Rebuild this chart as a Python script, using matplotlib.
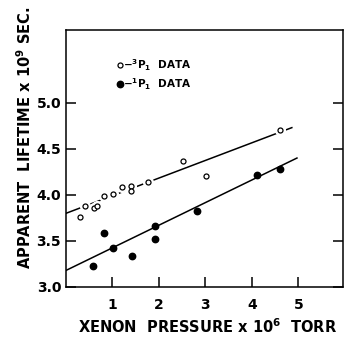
import numpy as np
import matplotlib.pyplot as plt

# 3P1 data (open circles)
p3_x = [0.31, 0.40, 0.60, 0.67, 0.81, 1.01, 1.21, 1.39, 1.39, 1.76, 2.51, 3.01, 4.61]
p3_y = [3.76, 3.88, 3.86, 3.88, 3.99, 4.01, 4.09, 4.10, 4.04, 4.14, 4.37, 4.21, 4.70]
# 1P1 data (filled circles)
p1_x = [0.58, 0.81, 1.02, 1.41, 1.91, 1.91, 2.81, 4.11, 4.60]
p1_y = [3.23, 3.59, 3.42, 3.34, 3.66, 3.52, 3.82, 4.22, 4.28]
# fitted lines (end points)
fit3_x = [0.0, 4.86]
fit3_y = [3.80, 4.73]
fit1_x = [0.0, 4.97]
fit1_y = [3.18, 4.40]

xticks = [1, 2, 3, 4, 5]
yticks = [3.0, 3.5, 4.0, 4.5, 5.0]

fig = plt.figure(figsize=(3.44, 3.39), dpi=100)
ax = fig.add_axes([66 / 344, 52 / 339, 276.5 / 344, 257 / 339])

ax.plot(fit3_x, fit3_y, color='black', lw=1.1, zorder=2)
ax.plot(fit1_x, fit1_y, color='black', lw=1.1, zorder=2)
# white halo so the line breaks around the open circles
ax.plot(p3_x, p3_y, 'o', ms=7, mfc='white', mec='white', zorder=3)
ax.plot(p3_x, p3_y, 'o', ms=3.6, mfc='white', mec='black', mew=0.9, zorder=4)
ax.plot(p1_x, p1_y, 'o', ms=4.6, color='black', zorder=4)

# legend drawn by hand
ax.plot([1.157], [5.405], 'o', ms=3.6, mfc='white', mec='black', mew=0.9)
ax.plot([1.157], [5.20], 'o', ms=4.6, color='black')
ax.text(1.22, 5.405, r'$\mathbf{-^3P_1}$  DATA', fontsize=7.5, fontweight='bold',
        va='center', ha='left')
ax.text(1.22, 5.20, r'$\mathbf{-^1P_1}$  DATA', fontsize=7.5, fontweight='bold',
        va='center', ha='left')

ax.set_xlim(0, 5.95)
ax.set_ylim(3.0, 5.79)
ax.set_xticks(xticks)
ax.set_xticklabels([str(t) for t in xticks])
ax.set_yticks(yticks)
ax.set_yticklabels(['%.1f' % t for t in yticks])
ax.tick_params(axis='both', direction='in', labelsize=10, width=1.1, length=7,
               right=True, top=False)
ax.tick_params(axis='x', pad=8)
for lab in ax.get_xticklabels() + ax.get_yticklabels():
    lab.set_fontweight('bold')
for s in ax.spines.values():
    s.set_linewidth(1.1)

fig.text(208 / 344, 1 - 327 / 339, r'XENON  PRESSURE x $\mathbf{10^6}$  TORR',
         ha='center', va='center', fontsize=10.5, fontweight='bold')
fig.text(25 / 344, 1 - 138 / 339, r'APPARENT  LIFETIME x $\mathbf{10^9}$ SEC.',
         ha='center', va='center', rotation=90, fontsize=10.5, fontweight='bold')

fig.savefig('out.png', dpi=100)
